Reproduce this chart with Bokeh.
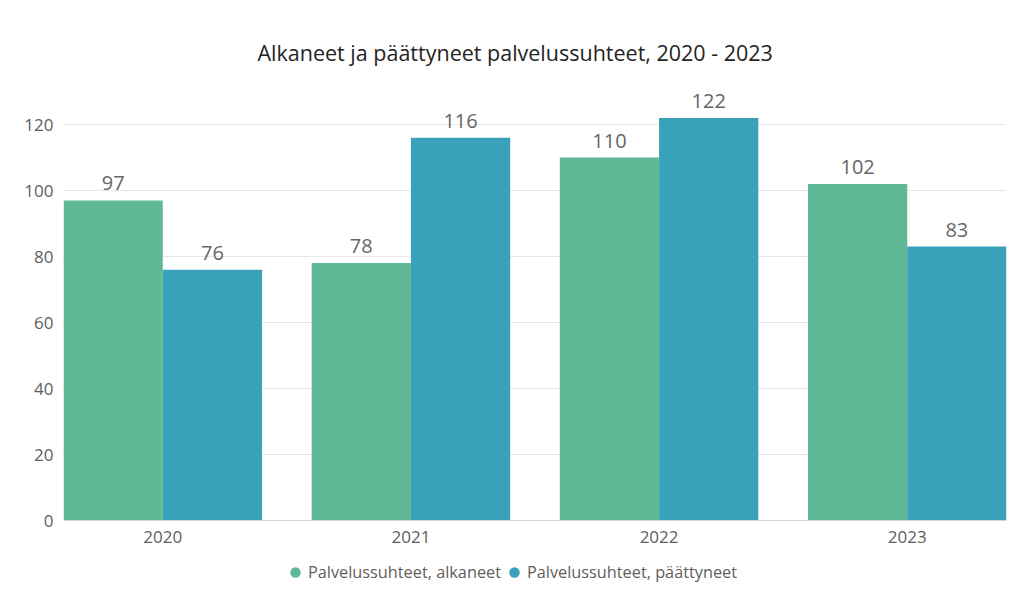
from bokeh.plotting import figure
from bokeh.models import ColumnDataSource, FixedTicker, Legend, LegendItem, Range1d, Span
from bokeh.core.properties import value
from bokeh.embed import file_html
from bokeh.resources import INLINE

years = ["2020", "2021", "2022", "2023"]
alkaneet = [97, 78, 110, 102]
paattyneet = [76, 116, 122, 83]
series_names = ["Palvelussuhteet, alkaneet", "Palvelussuhteet, päättyneet"]
colors = ["#5FB996", "#3AA1BB"]
y_ticks = [0, 20, 40, 60, 80, 100, 120]
title_text = "Alkaneet ja päättyneet palvelussuhteet, 2020 - 2023"

FONT = "Open Sans"
TXT = "#605E5C"
idx = list(range(len(years)))
bw = 0.4
PX_PER_UNIT = 3.3  # vertical scale: 0 -> 520px, 120 -> 124px

p = figure(width=1009, height=592, output_backend="svg", toolbar_location=None,
           x_range=Range1d(-0.4, len(years) - 0.6),
           y_range=Range1d(-72 / PX_PER_UNIT, 130),
           min_border_left=63, min_border_right=3, min_border_top=91, min_border_bottom=0)
p.outline_line_color = None
p.background_fill_color = "white"
p.border_fill_color = "white"
p.xaxis.visible = False

p.title.text = title_text
p.title.align = "left"
p.title.offset = 194
p.title.text_font = FONT
p.title.text_font_size = "21.5px"
p.title.text_font_style = "normal"
p.title.text_color = "#252423"
p.title.standoff = 49

src_a = ColumnDataSource(dict(x=[i - bw / 2 for i in idx], top=alkaneet, lab=[str(v) for v in alkaneet]))
src_p = ColumnDataSource(dict(x=[i + bw / 2 for i in idx], top=paattyneet, lab=[str(v) for v in paattyneet]))
src_x = ColumnDataSource(dict(x=idx, y=[0] * len(idx), lab=years))

p.ygrid.grid_line_color = "#E6E6E6"
p.ygrid.grid_line_width = 1
p.xgrid.grid_line_color = None

p.vbar(x="x", top="top", width=bw, source=src_a, fill_color=colors[0], line_color=None)
p.vbar(x="x", top="top", width=bw, source=src_p, fill_color=colors[1], line_color=None)

for s in (src_a, src_p):
    p.text(x="x", y="top", text="lab", source=s, text_align="center", text_baseline="alphabetic",
           y_offset=-17, text_font=value(FONT), text_font_size="20px", text_color="#666666")

# x axis line + category labels
p.add_layout(Span(location=0, dimension="width", line_color="#D4D4D4", line_width=1))
p.text(x="x", y="y", text="lab", source=src_x, text_align="center", text_baseline="middle",
       y_offset=16, text_font=value(FONT), text_font_size="17px", text_color=TXT)

# y axis
p.yaxis.ticker = FixedTicker(ticks=y_ticks)
p.yaxis.major_tick_line_color = None
p.yaxis.minor_tick_line_color = None
p.yaxis.axis_line_color = None
p.yaxis.major_label_text_font = FONT
p.yaxis.major_label_text_font_size = "17px"
p.yaxis.major_label_text_color = TXT
p.yaxis.major_label_standoff = 4

# legend with circle markers
nan = float("nan")
r1 = p.scatter(x=[nan], y=[nan], marker="circle", size=10, fill_color=colors[0], line_color=None)
r2 = p.scatter(x=[nan], y=[nan], marker="circle", size=10, fill_color=colors[1], line_color=None)
legend = Legend(items=[LegendItem(label=series_names[0], renderers=[r1]),
                       LegendItem(label=series_names[1], renderers=[r2])],
                orientation="horizontal", location=(219, 7),
                glyph_width=26, glyph_height=26, label_standoff=-5, spacing=-2,
                padding=0, margin=0, border_line_color=None, background_fill_alpha=0,
                label_text_font=FONT, label_text_font_size="16.3px", label_text_color=TXT)
p.add_layout(legend, "center")

open("out.html", "w").write(file_html(p, INLINE))
